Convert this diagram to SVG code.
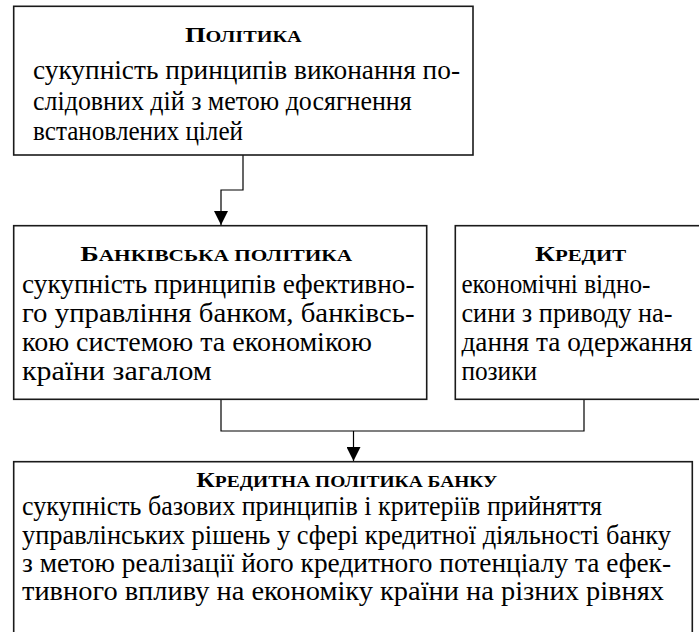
<svg xmlns="http://www.w3.org/2000/svg" width="699" height="632" viewBox="0 0 699 632">
  <style>
    .box { fill: #ffffff; stroke: #1a1a1a; stroke-width: 1.6; }
    .wire { fill: none; stroke: #000000; stroke-width: 1.2; }
    text { font-family: "Liberation Serif", "Times New Roman", serif; fill: #000000; }
    .title { font-weight: bold; text-anchor: middle; }
    .cap { font-size: 21px; }
    .sc { font-size: 16px; }
    .body { font-size: 27.5px; }
  </style>
  <defs>
    <marker id="arrow" markerWidth="14" markerHeight="14" refX="14" refY="7" orient="auto" markerUnits="userSpaceOnUse">
      <path d="M0,0 L14,7 L0,14 Z" fill="#000000"/>
    </marker>
  </defs>

  <!-- connectors -->
  <g id="connectors">
    <path class="wire" d="M243,155 V190 H221 V225" marker-end="url(#arrow)"/>
    <path class="wire" d="M221,399 V431 H584 V399"/>
    <path class="wire" d="M353.5,431 V461" marker-end="url(#arrow)"/>
  </g>

  <!-- policy -->
  <g id="policy">
    <rect class="box" x="13.7" y="6.3" width="459.3" height="148.7"/>
    <text class="title" x="243.3" y="42" textLength="116.7" lengthAdjust="spacingAndGlyphs"><tspan class="cap">П</tspan><tspan class="sc">ОЛІТИКА</tspan></text>
    <text class="body" x="33" y="79" textLength="427" lengthAdjust="spacingAndGlyphs">сукупність принципів виконання по-</text>
    <text class="body" x="33" y="110" textLength="378.7" lengthAdjust="spacingAndGlyphs">слідовних дій з метою досягнення</text>
    <text class="body" x="33" y="140" textLength="210" lengthAdjust="spacingAndGlyphs">встановлених цілей</text>
  </g>

  <!-- bank policy -->
  <g id="bank-policy">
    <rect class="box" x="13.7" y="225.7" width="413" height="173.6"/>
    <text class="title" x="216.2" y="261" textLength="272" lengthAdjust="spacingAndGlyphs"><tspan class="cap">Б</tspan><tspan class="sc">АНКІВСЬКА ПОЛІТИКА</tspan></text>
    <text class="body" x="22" y="293" textLength="392.6" lengthAdjust="spacingAndGlyphs">сукупність принципів ефективно-</text>
    <text class="body" x="22" y="322" textLength="392.6" lengthAdjust="spacingAndGlyphs">го управління банком, банківсь-</text>
    <text class="body" x="22" y="351" textLength="350" lengthAdjust="spacingAndGlyphs">кою системою та економікою</text>
    <text class="body" x="22" y="380" textLength="189.8" lengthAdjust="spacingAndGlyphs">країни загалом</text>
  </g>

  <!-- credit -->
  <g id="credit">
    <rect class="box" x="455.3" y="225.7" width="250" height="173.6"/>
    <text class="title" x="580.6" y="261" textLength="91" lengthAdjust="spacingAndGlyphs"><tspan class="cap">К</tspan><tspan class="sc">РЕДИТ</tspan></text>
    <text class="body" x="461.4" y="293" textLength="189" lengthAdjust="spacingAndGlyphs">економічні відно-</text>
    <text class="body" x="461.4" y="322" textLength="211" lengthAdjust="spacingAndGlyphs">сини з приводу на-</text>
    <text class="body" x="461.4" y="351" textLength="231" lengthAdjust="spacingAndGlyphs">дання та одержання</text>
    <text class="body" x="461.4" y="380" textLength="75.6" lengthAdjust="spacingAndGlyphs">позики</text>
  </g>

  <!-- bank credit policy -->
  <g id="credit-policy">
    <rect class="box" x="13.7" y="461.7" width="678.6" height="190"/>
    <text class="title" x="346.8" y="487.3" textLength="301" lengthAdjust="spacingAndGlyphs"><tspan class="cap">К</tspan><tspan class="sc">РЕДИТНА ПОЛІТИКА БАНКУ</tspan></text>
    <text class="body" x="22" y="515" textLength="580" lengthAdjust="spacingAndGlyphs">сукупність базових принципів і критеріїв прийняття</text>
    <text class="body" x="22" y="543.5" textLength="649" lengthAdjust="spacingAndGlyphs">управлінських рішень у сфері кредитної діяльності банку</text>
    <text class="body" x="22" y="572" textLength="649" lengthAdjust="spacingAndGlyphs">з метою реалізації його кредитного потенціалу та ефек-</text>
    <text class="body" x="22" y="600" textLength="642" lengthAdjust="spacingAndGlyphs">тивного впливу на економіку країни на різних рівнях</text>
  </g>
</svg>
